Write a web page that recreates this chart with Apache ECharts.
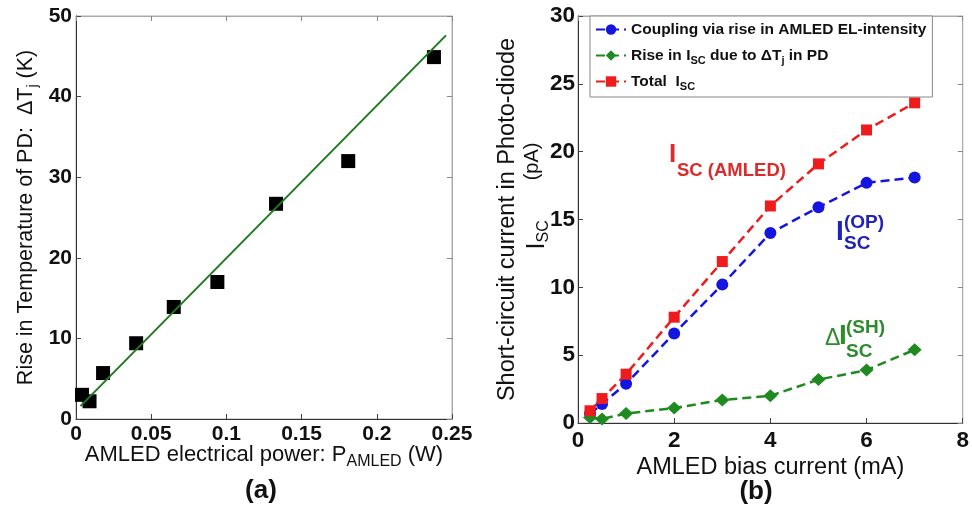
<!DOCTYPE html>
<html><head><meta charset="utf-8">
<script src="https://cdn.jsdelivr.net/npm/echarts@6/dist/echarts.min.js"></script>
<style>html,body{margin:0;padding:0;background:#fff}#c{width:972px;height:510px}</style>
</head><body><div id="c"></div>
<script>
// ---- Panel (a): junction temperature rise vs AMLED electrical power ----
const powerW   = [0.004, 0.009, 0.018, 0.040, 0.065, 0.094, 0.133, 0.181, 0.238];
const deltaTj  = [3.0, 2.2, 5.7, 9.4, 13.9, 17.0, 26.7, 32.0, 44.9];
const fitPowerW  = [0.003, 0.246];
const fitDeltaTj = [1.6, 47.6];
// ---- Panel (b): short-circuit current vs AMLED bias current ----
const biasCurrent = [0.25, 0.5, 1, 2, 3, 4, 5, 6, 7];
const iscOP    = [0.7, 1.4, 2.9, 6.6, 10.2, 14.0, 15.9, 17.7, 18.1];
const iscSH    = [0.4, 0.3, 0.7, 1.1, 1.7, 2.0, 3.2, 3.9, 5.4];
const iscTotal = [0.9, 1.8, 3.6, 7.8, 11.9, 16.0, 19.1, 21.6, 23.6];
const seriesNames = ['Coupling via rise in AMLED EL-intensity', 'Rise in ISC due to ΔTj in PD', 'Total  ISC'];
const legendRich = ['Coupling via rise in AMLED EL-intensity', 'Rise in I{s|SC} due to ΔT{s|j} in PD', 'Total  I{s|SC}'];
const xTicksA = {min: 0, max: 0.25, interval: 0.05};
const yTicksA = {min: 0, max: 50, interval: 10};
const xTicksB = {min: 0, max: 8, interval: 2};
const yTicksB = {min: 0, max: 30, interval: 5};

const FF = '"Liberation Sans", Arial, sans-serif';
const zip = (a, b) => a.map((v, i) => [v, b[i]]);

function mainAxis(grid, t, pos, lblSize, margin, extra) {
  return Object.assign({
    gridIndex: grid, type: 'value', position: pos, min: t.min, max: t.max, interval: t.interval,
    axisLine: {show: true, onZero: false, lineStyle: {color: '#333', width: 1}},
    axisTick: {show: true, inside: true, length: 5, lineStyle: {color: '#444'}},
    axisLabel: {show: true, fontFamily: FF, fontWeight: 'bold', fontSize: lblSize, color: '#111', margin: margin},
    splitLine: {show: false}
  }, extra || {});
}
function frameAxis(grid, t, pos) {
  return {
    gridIndex: grid, type: 'value', position: pos, min: t.min, max: t.max, interval: t.interval,
    axisLine: {show: true, onZero: false, lineStyle: {color: '#aaa', width: 1}},
    axisTick: {show: true, inside: true, length: 5, lineStyle: {color: '#888'}},
    axisLabel: {show: false}, splitLine: {show: false}
  };
}

const chart = echarts.init(document.getElementById('c'), null, {renderer: 'canvas'});
const dashed = [9, 5];
chart.setOption({
  animation: false,
  backgroundColor: '#fff',
  textStyle: {fontFamily: FF},
  grid: [
    {left: 76, top: 16, width: 376, height: 403, show: true, borderColor: '#aaa', borderWidth: 1},
    {left: 578, top: 16, width: 386, height: 407, show: true, borderColor: '#aaa', borderWidth: 1}
  ],
  legend: {
    data: seriesNames, left: 590, top: 16, orient: 'vertical',
    padding: [2.5, 6, 4.5, 5], itemGap: 4, itemWidth: 30, itemHeight: 13,
    borderColor: '#888', borderWidth: 1, backgroundColor: '#fff', borderRadius: 0,
    formatter: name => legendRich[seriesNames.indexOf(name)],
    textStyle: {fontFamily: FF, fontWeight: 'bold', fontSize: 15.5, color: '#111', lineHeight: 22,
      rich: {s: {fontFamily: FF, fontWeight: 'bold', fontSize: 11, color: '#111', verticalAlign: 'bottom'}}}
  },
  xAxis: [
    mainAxis(0, xTicksA, 'bottom', 21, 5, {
      name: 'AMLED electrical power: P{s|AMLED} (W)', nameLocation: 'middle', nameGap: 21, nameMoveOverlap: false,
      nameTextStyle: {fontFamily: FF, fontSize: 22, color: '#111', lineHeight: 30,
        rich: {s: {fontFamily: FF, fontSize: 16, color: '#111', verticalAlign: 'bottom'}}}
    }),
    frameAxis(0, xTicksA, 'top'),
    mainAxis(1, xTicksB, 'bottom', 22.5, 6, {
      name: 'AMLED bias current (mA)', nameLocation: 'middle', nameGap: 31, nameMoveOverlap: false,
      nameTextStyle: {fontFamily: FF, fontSize: 23.5, color: '#111', lineHeight: 28}
    }),
    frameAxis(1, xTicksB, 'top')
  ],
  yAxis: [
    mainAxis(0, yTicksA, 'left', 21, 4, {
      name: 'Rise in Temperature of PD:  ΔT{s|j} (K)', nameLocation: 'middle', nameGap: 36, nameRotate: 90,
      nameTextStyle: {fontFamily: FF, fontSize: 21.5, color: '#111', lineHeight: 28,
        rich: {s: {fontFamily: FF, fontSize: 14, color: '#111', verticalAlign: 'bottom'}}}
    }),
    frameAxis(0, yTicksA, 'right'),
    mainAxis(1, yTicksB, 'left', 22.5, 3, {
      name: 'Short-circuit current in Photo-diode\n{h|}{I|I}{s|SC}{g|}{p|(pA)}', nameLocation: 'middle', nameGap: 26,
      nameRotate: 90, nameMoveOverlap: false,
      nameTextStyle: {fontFamily: FF, fontSize: 23.5, color: '#111', lineHeight: 28, align: 'center',
        rich: {
          h: {width: 47},
          g: {width: 40},
          I: {fontFamily: FF, fontSize: 25, color: '#111', lineHeight: 30},
          s: {fontFamily: FF, fontSize: 16, color: '#111', verticalAlign: 'bottom'},
          p: {fontFamily: FF, fontSize: 20, color: '#111', verticalAlign: 'top'}
        }}
    }),
    frameAxis(1, yTicksB, 'right')
  ],
  series: [
    {type: 'scatter', name: 'measured', xAxisIndex: 0, yAxisIndex: 0, data: zip(powerW, deltaTj),
     symbol: 'rect', symbolSize: 14, itemStyle: {color: '#000', opacity: 1}},
    {type: 'line', name: 'fit', xAxisIndex: 0, yAxisIndex: 0, data: zip(fitPowerW, fitDeltaTj),
     symbol: 'none', lineStyle: {color: '#1e7a1e', width: 2}},
    {type: 'line', name: seriesNames[0], xAxisIndex: 2, yAxisIndex: 2, data: zip(biasCurrent, iscOP),
     symbol: 'circle', symbolSize: 12, itemStyle: {color: '#1515e0'},
     lineStyle: {color: '#1515e0', width: 2.5, type: dashed}},
    {type: 'line', name: seriesNames[1], xAxisIndex: 2, yAxisIndex: 2, data: zip(biasCurrent, iscSH),
     symbol: 'diamond', symbolSize: [14, 13], itemStyle: {color: '#1f8a1f'},
     lineStyle: {color: '#1f8a1f', width: 2.5, type: dashed}},
    {type: 'line', name: seriesNames[2], xAxisIndex: 2, yAxisIndex: 2, data: zip(biasCurrent, iscTotal),
     symbol: 'rect', symbolSize: 11, itemStyle: {color: '#ee1c1c'},
     lineStyle: {color: '#ee1c1c', width: 2.5, type: dashed}}
  ],
  graphic: [
    // panel captions
    {type: 'text', x: 261, y: 491, style: {text: '(a)', font: 'bold 26px ' + FF, fill: '#111', align: 'center', verticalAlign: 'middle'}},
    {type: 'text', x: 756, y: 492, style: {text: '(b)', font: 'bold 26px ' + FF, fill: '#111', align: 'center', verticalAlign: 'middle'}},
    // I_SC (AMLED) in red
    {type: 'text', x: 669, y: 155, style: {text: 'I', font: 'bold 26px ' + FF, fill: '#dd2a2a', align: 'left', verticalAlign: 'middle'}},
    {type: 'text', x: 677, y: 171, style: {text: 'SC (AMLED)', font: 'bold 18.5px ' + FF, fill: '#dd2a2a', align: 'left', verticalAlign: 'middle'}},
    // I_SC^(OP) in blue
    {type: 'text', x: 836, y: 232, style: {text: 'I', font: 'bold 28px ' + FF, fill: '#2222bb', align: 'left', verticalAlign: 'middle'}},
    {type: 'text', x: 844, y: 223, style: {text: '(OP)', font: 'bold 19px ' + FF, fill: '#2222bb', align: 'left', verticalAlign: 'middle'}},
    {type: 'text', x: 844, y: 244, style: {text: 'SC', font: 'bold 19px ' + FF, fill: '#2222bb', align: 'left', verticalAlign: 'middle'}},
    // ΔI_SC^(SH) in green
    {type: 'text', x: 825, y: 339, style: {text: 'Δ', font: '23px ' + FF, fill: '#2e8b2e', align: 'left', verticalAlign: 'middle'}},
    {type: 'text', x: 839, y: 336, style: {text: 'I', font: 'bold 28px ' + FF, fill: '#2e8b2e', align: 'left', verticalAlign: 'middle'}},
    {type: 'text', x: 846, y: 328, style: {text: '(SH)', font: 'bold 19px ' + FF, fill: '#2e8b2e', align: 'left', verticalAlign: 'middle'}},
    {type: 'text', x: 846, y: 352, style: {text: 'SC', font: 'bold 19px ' + FF, fill: '#2e8b2e', align: 'left', verticalAlign: 'middle'}}
  ]
});
</script>
</body></html>
